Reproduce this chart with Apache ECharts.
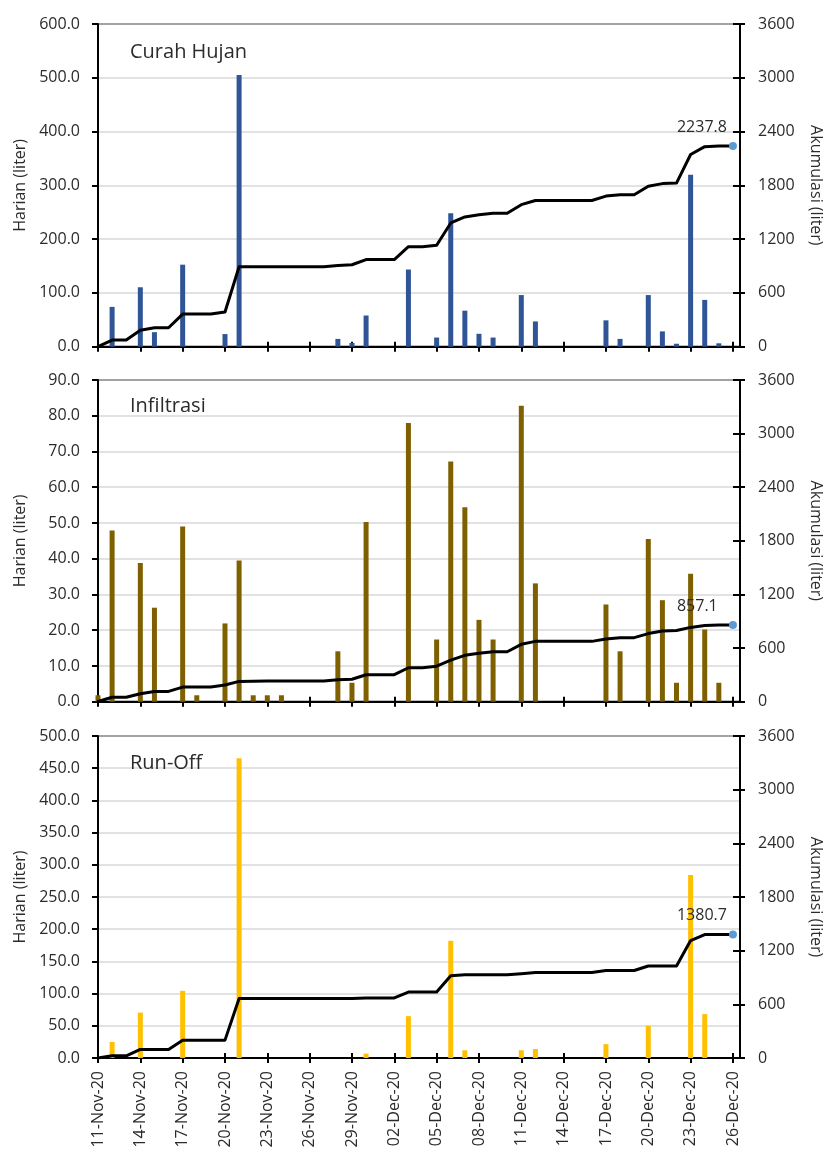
<!DOCTYPE html>
<html>
<head>
<meta charset="utf-8">
<title>Curah Hujan, Infiltrasi, Run-Off</title>
<script src="https://cdn.jsdelivr.net/npm/echarts@6/dist/echarts.min.js"></script>
<style>
  html, body { margin: 0; padding: 0; background: #fff; }
  #chart { width: 823px; height: 1153px; }
</style>
</head>
<body>
<div id="chart"></div>
<script>
// One entry per day, 11 Nov 2020 .. 26 Dec 2020
const days = [
  '11-Nov-20','12-Nov-20','13-Nov-20','14-Nov-20','15-Nov-20','16-Nov-20','17-Nov-20','18-Nov-20',
  '19-Nov-20','20-Nov-20','21-Nov-20','22-Nov-20','23-Nov-20','24-Nov-20','25-Nov-20','26-Nov-20',
  '27-Nov-20','28-Nov-20','29-Nov-20','30-Nov-20','01-Dec-20','02-Dec-20','03-Dec-20','04-Dec-20',
  '05-Dec-20','06-Dec-20','07-Dec-20','08-Dec-20','09-Dec-20','10-Dec-20','11-Dec-20','12-Dec-20',
  '13-Dec-20','14-Dec-20','15-Dec-20','16-Dec-20','17-Dec-20','18-Dec-20','19-Dec-20','20-Dec-20',
  '21-Dec-20','22-Dec-20','23-Dec-20','24-Dec-20','25-Dec-20','26-Dec-20'
];

// Date labels shown on the time axis (every third day)
const tickLabels = [
  '11-Nov-20','14-Nov-20','17-Nov-20','20-Nov-20','23-Nov-20','26-Nov-20','29-Nov-20','02-Dec-20',
  '05-Dec-20','08-Dec-20','11-Dec-20','14-Dec-20','17-Dec-20','20-Dec-20','23-Dec-20','26-Dec-20'
];

// Daily rainfall (liter)
const rainDaily = [
  0, 74.0, 0, 110.5, 27.0, 0, 152.5, 0, 0, 23.5, 505.0, 0, 0, 0, 0, 0,
  0, 14.5, 7.0, 58.0, 0, 0, 143.5, 0, 17.0, 248.0, 67.0, 24.0, 17.0, 0, 96.0, 47.0,
  0, 0, 0, 0, 49.0, 14.5, 0, 96.0, 28.5, 5.5, 319.5, 87.0, 6.3, 0
];
// Accumulated rainfall (liter)
const rainCum = [
  0, 74.0, 74.0, 184.5, 211.5, 211.5, 364.0, 364.0, 364.0, 387.5, 892.5, 892.5, 892.5, 892.5, 892.5, 892.5,
  892.5, 907.0, 914.0, 972.0, 972.0, 972.0, 1115.5, 1115.5, 1132.5, 1380.5, 1447.5, 1471.5, 1488.5, 1488.5, 1584.5, 1631.5,
  1631.5, 1631.5, 1631.5, 1631.5, 1680.5, 1695.0, 1695.0, 1791.0, 1819.5, 1825.0, 2144.5, 2231.5, 2237.8, 2237.8
];

// Daily infiltration (liter)
const infilDaily = [
  1.8, 47.9, 0, 38.8, 26.3, 0, 49.0, 1.8, 0, 21.9, 39.5, 1.8, 1.8, 1.8, 0, 0,
  0, 14.1, 5.3, 50.3, 0, 0, 78.0, 0, 17.4, 67.2, 54.4, 22.9, 17.4, 0, 82.8, 33.1,
  0, 0, 0, 0, 27.2, 14.1, 0, 45.5, 28.4, 5.3, 35.8, 20.2, 5.3, 0
];
// Accumulated infiltration (liter)
const infilCum = [
  1.8, 49.7, 49.7, 88.5, 114.8, 114.8, 163.8, 165.6, 165.6, 187.5, 227.0, 228.8, 230.6, 232.4, 232.4, 232.4,
  232.4, 246.5, 251.8, 302.1, 302.1, 302.1, 380.1, 380.1, 397.5, 464.7, 519.1, 542.0, 559.4, 559.4, 642.2, 675.3,
  675.3, 675.3, 675.3, 675.3, 702.5, 716.6, 716.6, 762.1, 790.5, 795.8, 831.6, 851.8, 857.1, 857.1
];

// Daily run-off (liter)
const runoffDaily = [
  0, 25.0, 0, 70.5, 0, 0, 104.3, 0, 0, 0, 465.5, 0, 0, 0, 0, 0,
  0, 0, 0, 6.8, 0, 0, 65.0, 0, 0, 182.0, 12.0, 0, 0, 0, 12.0, 14.0,
  0, 0, 0, 0, 21.5, 0, 0, 50.0, 0, 0, 284.0, 68.1, 0, 0
];
// Accumulated run-off (liter)
const runoffCum = [
  0, 25.0, 25.0, 95.5, 95.5, 95.5, 199.8, 199.8, 199.8, 199.8, 665.3, 665.3, 665.3, 665.3, 665.3, 665.3,
  665.3, 665.3, 665.3, 672.1, 672.1, 672.1, 737.1, 737.1, 737.1, 919.1, 931.1, 931.1, 931.1, 931.1, 943.1, 957.1,
  957.1, 957.1, 957.1, 957.1, 978.6, 978.6, 978.6, 1028.6, 1028.6, 1028.6, 1312.6, 1380.7, 1380.7, 1380.7
];

const FONT = '"Open Sans", "Noto Sans", sans-serif';
const TEXT = '#2b2b2b';
const AXIS = '#000';

const panels = [
  { title: 'Curah Hujan', daily: rainDaily, cum: rainCum, color: '#2F5597',
    max: 600, interval: 100, top: 24, height: 322.7, titleY: 52 },
  { title: 'Infiltrasi', daily: infilDaily, cum: infilCum, color: '#7F6000',
    max: 90, interval: 10, top: 380, height: 321.7, titleY: 406 },
  { title: 'Run-Off', daily: runoffDaily, cum: runoffCum, color: '#FFC000',
    max: 500, interval: 50, top: 736, height: 322, titleY: 763 }
];

// positions of the dated ticks along the day axis
const tickDays = tickLabels.map(t => days.indexOf(t));

const grids = [], xAxes = [], yAxes = [], series = [], graphics = [];

panels.forEach((p, i) => {
  grids.push({
    left: 98, right: 83, top: p.top, height: p.height,
    outerBoundsMode: 'none', containLabel: false,
    show: true, borderColor: AXIS, borderWidth: 2, backgroundColor: 'transparent'
  });

  // main day axis (outer half of the ticks, labels on the last panel)
  xAxes.push({
    type: 'value', gridIndex: i, min: 0, max: 45.5, position: 'bottom',
    splitLine: { show: false },
    axisLine: { show: true, onZero: false, lineStyle: { color: AXIS, width: 2 } },
    axisTick: { show: true, customValues: tickDays, length: 5, inside: false,
                lineStyle: { color: AXIS, width: 2 } },
    axisLabel: {
      show: i === 2, customValues: tickDays, rotate: 90, margin: 13,
      fontFamily: FONT, fontSize: 16, color: TEXT,
      formatter: v => days[Math.round(v)]
    }
  });
  // inner half of the crossing ticks
  xAxes.push({
    type: 'value', gridIndex: i, min: 0, max: 45.5, position: 'bottom',
    splitLine: { show: false },
    axisLine: { show: false, onZero: false },
    axisTick: { show: true, customValues: tickDays, length: 5, inside: true,
                lineStyle: { color: AXIS, width: 2 } },
    axisLabel: { show: false }
  });

  // daily values, left
  yAxes.push({
    type: 'value', gridIndex: i, position: 'left', min: 0, max: p.max, interval: p.interval,
    name: 'Harian (liter)', nameLocation: 'middle', nameGap: 70,
    nameTextStyle: { fontFamily: FONT, fontSize: 16, color: TEXT },
    axisLine: { show: true, onZero: false, lineStyle: { color: AXIS, width: 2 } },
    axisTick: { show: true, length: 6, lineStyle: { color: AXIS, width: 2 } },
    axisLabel: { margin: 18, fontFamily: FONT, fontSize: 16, color: TEXT,
                 formatter: v => v.toFixed(1) },
    splitLine: { show: true, lineStyle: { color: '#d9d9d9', width: 1.5 } }
  });
  // accumulated values, right
  yAxes.push({
    type: 'value', gridIndex: i, position: 'right', min: 0, max: 3600, interval: 600,
    alignTicks: false,
    name: 'Akumulasi (liter)', nameLocation: 'middle', nameGap: 68, nameRotate: -90,
    nameTextStyle: { fontFamily: FONT, fontSize: 16, color: TEXT },
    axisLine: { show: true, onZero: false, lineStyle: { color: AXIS, width: 2 } },
    axisTick: { show: true, length: 5, lineStyle: { color: AXIS, width: 2 } },
    axisLabel: { margin: 18, fontFamily: FONT, fontSize: 16, color: TEXT,
                 formatter: v => String(v) },
    splitLine: { show: false }
  });
  // inner half of the right-hand ticks
  yAxes.push({
    type: 'value', gridIndex: i, position: 'right', min: 0, max: 3600, interval: 600,
    alignTicks: false,
    axisLine: { show: false, onZero: false },
    axisTick: { show: true, inside: true, length: 7, lineStyle: { color: AXIS, width: 2 } },
    axisLabel: { show: false },
    splitLine: { show: false }
  });

  series.push({
    type: 'bar', name: p.title + ' harian',
    xAxisIndex: 2 * i, yAxisIndex: 3 * i,
    barWidth: 5,
    itemStyle: { color: p.color },
    data: p.daily.map((v, k) => [k, v]),
    z: 2
  });

  const last = p.cum.length - 1;
  series.push({
    type: 'line', name: p.title + ' akumulasi',
    xAxisIndex: 2 * i, yAxisIndex: 3 * i + 1,
    symbol: 'none', showSymbol: true, showAllSymbol: true,
    lineStyle: { color: '#000', width: 3, join: 'round', cap: 'round' },
    itemStyle: { color: '#000' },
    data: p.cum.map((v, k) => k === last ? {
      value: [k, v],
      symbol: 'circle', symbolSize: 8,
      itemStyle: { color: '#5B9BD5' },
      label: {
        show: true, position: [-52, -15], align: 'left', verticalAlign: 'middle',
        fontFamily: FONT, fontSize: 16, color: TEXT,
        formatter: prm => prm.value[1].toFixed(1)
      }
    } : [k, v]),
    z: 3
  });

  graphics.push({
    type: 'text', z: 10,
    style: { text: p.title, x: 130, y: p.titleY, verticalAlign: 'middle',
             font: '20px ' + FONT, fill: TEXT }
  });
});

const chart = echarts.init(document.getElementById('chart'), null, { renderer: 'canvas' });
chart.setOption({
  animation: false,
  backgroundColor: '#fff',
  grid: grids,
  xAxis: xAxes,
  yAxis: yAxes,
  series: series,
  graphic: graphics
});
</script>
</body>
</html>
